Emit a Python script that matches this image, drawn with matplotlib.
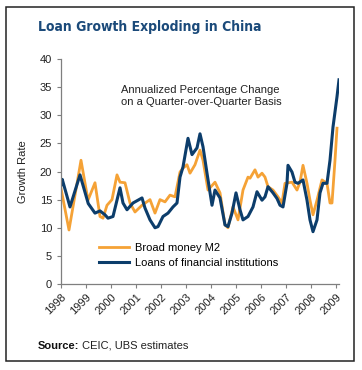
import matplotlib
matplotlib.use('Agg')
import matplotlib.pyplot as plt
import matplotlib.transforms as mtransforms
from matplotlib.patches import Rectangle

plt.rcParams['font.family'] = ['Liberation Sans', 'DejaVu Sans']

# Quarter-over-quarter annualized growth, %
loans_t = [1998.00, 1998.05, 1998.36, 1998.76, 1999.09, 1999.36, 1999.56, 1999.76,
           1999.88, 2000.08, 2000.36, 2000.48, 2000.64, 2000.88, 2001.08, 2001.24,
           2001.36, 2001.56, 2001.76, 2001.88, 2002.08, 2002.28, 2002.48, 2002.64,
           2002.76, 2002.88, 2003.08, 2003.24, 2003.44, 2003.56, 2003.68, 2003.84,
           2004.04, 2004.16, 2004.36, 2004.56, 2004.68, 2004.84, 2005.00, 2005.16,
           2005.28, 2005.48, 2005.68, 2005.84, 2006.04, 2006.16, 2006.28, 2006.48,
           2006.64, 2006.76, 2006.88, 2007.04, 2007.08, 2007.24, 2007.36, 2007.48,
           2007.68, 2007.84, 2007.96, 2008.08, 2008.24, 2008.36, 2008.48, 2008.64,
           2008.76, 2008.88, 2009.04, 2009.12]
loans = [17.6, 18.6, 13.7, 19.4, 14.3, 12.6, 13.0, 12.3,
         11.7, 12.0, 17.1, 14.4, 13.2, 14.4, 14.9, 15.3,
         13.5, 11.4, 10.0, 10.2, 12.0, 12.6, 13.7, 14.4,
         19.0, 20.8, 25.9, 23.0, 24.2, 26.7, 24.4, 19.7,
         14.0, 16.7, 15.3, 10.5, 10.2, 12.6, 16.2, 13.2,
         11.4, 12.0, 13.7, 16.4, 14.9, 15.5, 17.3, 16.2,
         15.2, 14.0, 13.7, 17.9, 21.1, 19.9, 18.1, 17.9,
         18.5, 14.9, 11.4, 9.3, 11.4, 16.2, 17.9, 17.9,
         22.0, 27.9, 33.3, 36.3]

m2_t = [1998.00, 1998.32, 1998.80, 1999.08, 1999.36, 1999.56, 1999.68, 1999.84,
        2000.04, 2000.24, 2000.36, 2000.56, 2000.76, 2000.96, 2001.24, 2001.56,
        2001.76, 2001.96, 2002.16, 2002.36, 2002.56, 2002.76, 2002.88, 2003.04,
        2003.16, 2003.36, 2003.56, 2003.68, 2003.88, 2004.16, 2004.36, 2004.56,
        2004.68, 2004.88, 2005.08, 2005.28, 2005.48, 2005.56, 2005.76, 2005.88,
        2006.04, 2006.16, 2006.28, 2006.48, 2006.68, 2006.84, 2006.96, 2007.24,
        2007.44, 2007.56, 2007.68, 2007.84, 2007.96, 2008.08, 2008.24, 2008.44,
        2008.64, 2008.76, 2008.84, 2008.96, 2009.04]
m2 = [17.0, 9.6, 22.0, 14.9, 18.0, 12.0, 11.7, 14.0,
      15.0, 19.4, 18.1, 18.0, 14.4, 12.8, 14.0, 15.0,
      12.6, 15.0, 14.6, 15.8, 15.5, 19.9, 20.6, 21.2,
      19.7, 21.2, 23.8, 22.0, 16.7, 18.1, 16.2, 10.5,
      10.0, 13.7, 11.4, 16.7, 19.0, 18.8, 20.3, 19.0,
      19.7, 19.0, 17.3, 16.7, 15.5, 14.4, 17.9, 18.1,
      16.7, 18.1, 21.1, 17.9, 14.9, 12.3, 14.9, 18.5,
      17.9, 14.4, 14.4, 22.0, 27.7]

years = list(range(1998, 2010))

ORANGE = '#F5A236'
NAVY = '#0C3D6B'
GREY = '#7F7F7F'

fig = plt.figure(figsize=(3.62, 3.70), dpi=100)
fig.patch.set_facecolor('white')

# outer frame
fig.add_artist(Rectangle((6 / 362, 1 - 361 / 370), 348 / 362, 354 / 370,
                         transform=fig.transFigure, fill=False,
                         edgecolor='#222222', linewidth=1.1))

fig.text(38 / 362, 1 - 27 / 370, 'Loan Growth Exploding in China',
         fontsize=10, fontweight='bold', color='#1B4A7A', va='center', ha='left',
         family=['DejaVu Sans'], fontstretch='condensed')

ax = fig.add_axes([61 / 362, 1 - 284 / 370, 278 / 362, 225 / 370])
ax.plot(m2_t, m2, color=ORANGE, lw=2.0, label='Broad money M2', solid_joinstyle='round')
ax.plot(loans_t, loans, color=NAVY, lw=2.2, label='Loans of financial institutions',
        solid_joinstyle='round')

ax.set_xlim(1998, 2009.12)
ax.set_ylim(0, 40)
ax.set_yticks(range(0, 41, 5))
ax.set_xticks(years)
ax.set_xticklabels([str(y) for y in years], rotation=45, ha='right',
                   rotation_mode='anchor')
shift = mtransforms.ScaledTranslation(-5 / 100, 0, fig.dpi_scale_trans)
for lbl in ax.get_xticklabels():
    lbl.set_transform(lbl.get_transform() + shift)
ax.tick_params(axis='both', colors=GREY, labelcolor='#222222', labelsize=8,
               length=3, width=0.8, direction='out')
ax.tick_params(axis='x', pad=3)
for s in ['top', 'right']:
    ax.spines[s].set_visible(False)
for s in ['left', 'bottom']:
    ax.spines[s].set_color(GREY)
    ax.spines[s].set_linewidth(0.9)
ax.set_ylabel('Growth Rate', fontsize=8, color='#222222', labelpad=8)

ax.text(0.215, 0.885, 'Annualized Percentage Change\non a Quarter-over-Quarter Basis',
        transform=ax.transAxes, fontsize=8, color='#222222', va='top', ha='left',
        linespacing=1.25)

ax.legend(loc='lower left', bbox_to_anchor=(0.12, 0.05), frameon=False,
          fontsize=8, handlelength=2.7, handletextpad=0.6, labelspacing=0.45,
          borderaxespad=0)

src = fig.text(38 / 362, 1 - 346 / 370, 'Source:', fontsize=8, fontweight='bold',
               va='center', ha='left', color='#111111')
fig.canvas.draw()
bb = src.get_window_extent()
fig.text((bb.x1 + 3) / fig.bbox.width, 1 - 346 / 370, 'CEIC, UBS estimates',
         fontsize=8, va='center', ha='left', color='#222222')

fig.savefig('out.png', dpi=100)
